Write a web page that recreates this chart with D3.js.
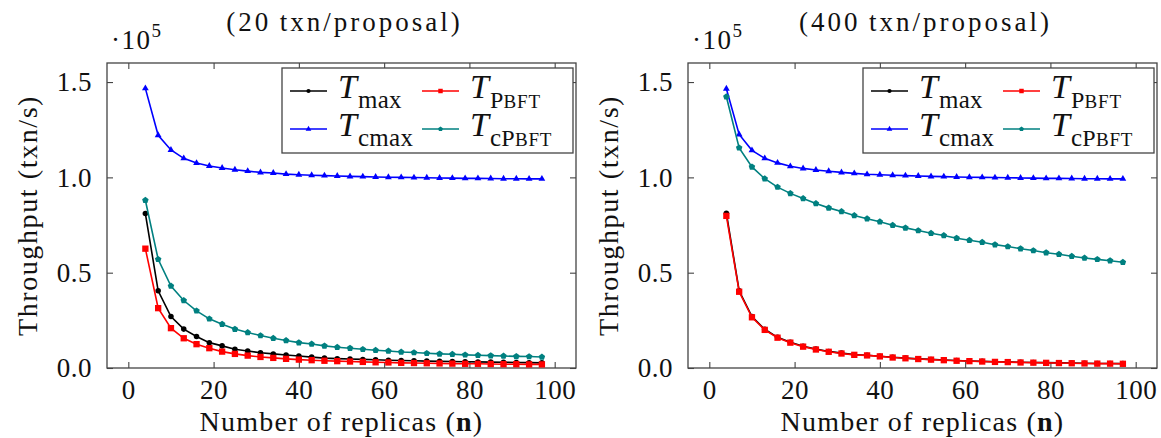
<!DOCTYPE html>
<html>
<head>
<meta charset="utf-8">
<script src="https://cdn.jsdelivr.net/npm/d3@7"></script>
<style>
  body { margin: 0; background: #fff; }
  svg text { font-family: "Liberation Serif", "DejaVu Serif", serif; fill: #111; }
</style>
</head>
<body>
<script>
// number of replicas (x values, shared by every series)
const replicas = [4, 7, 10, 13, 16, 19, 22, 25, 28, 31, 34, 37, 40, 43, 46, 49,
  52, 55, 58, 61, 64, 67, 70, 73, 76, 79, 82, 85, 88, 91, 94, 97];

// 20 txn/proposal (values in units of 10^5 txn/s)
const tMax20 = [0.81, 0.405, 0.27, 0.204, 0.165, 0.133, 0.116, 0.098, 0.089, 0.080, 0.074, 0.068, 0.063, 0.057,
  0.052, 0.049, 0.047, 0.045, 0.043, 0.041, 0.039, 0.038, 0.036, 0.035, 0.034, 0.033, 0.032, 0.031, 0.030, 0.029, 0.028, 0.027];
const tPbft20 = [0.626, 0.314, 0.209, 0.156, 0.125, 0.104, 0.086, 0.074, 0.065, 0.058, 0.053, 0.048, 0.044, 0.041,
  0.038, 0.036, 0.034, 0.032, 0.030, 0.029, 0.027, 0.026, 0.025, 0.024, 0.023, 0.022, 0.022, 0.021, 0.020, 0.020, 0.019, 0.019];
const tCmax20 = [1.467, 1.221, 1.144, 1.100, 1.075, 1.060, 1.049, 1.040, 1.033, 1.026, 1.023, 1.017, 1.014, 1.011,
  1.009, 1.007, 1.005, 1.004, 1.002, 1.001, 1.000, 0.999, 0.998, 0.997, 0.996, 0.995, 0.995, 0.994, 0.993, 0.993, 0.992, 0.992];
const tCpbft20 = [0.88, 0.57, 0.43, 0.354, 0.30, 0.258, 0.23, 0.204, 0.186, 0.17, 0.156, 0.144, 0.133, 0.126,
  0.116, 0.109, 0.104, 0.098, 0.093, 0.089, 0.084, 0.081, 0.077, 0.074, 0.072, 0.069, 0.067, 0.065, 0.063, 0.061, 0.060, 0.058];

// 400 txn/proposal
const tMax400 = [0.812, 0.405, 0.27, 0.203, 0.161, 0.135, 0.114, 0.099, 0.087, 0.078, 0.070, 0.067, 0.062, 0.056,
  0.052, 0.048, 0.045, 0.042, 0.039, 0.037, 0.035, 0.033, 0.032, 0.030, 0.029, 0.028, 0.027, 0.026, 0.025, 0.024, 0.024, 0.023];
const tPbft400 = [0.798, 0.40, 0.266, 0.20, 0.159, 0.133, 0.112, 0.097, 0.085, 0.076, 0.069, 0.066, 0.061, 0.055,
  0.051, 0.047, 0.044, 0.041, 0.038, 0.036, 0.034, 0.032, 0.031, 0.029, 0.028, 0.027, 0.026, 0.025, 0.024, 0.023, 0.023, 0.022];
const tCmax400 = [1.465, 1.225, 1.142, 1.100, 1.076, 1.058, 1.047, 1.039, 1.032, 1.026, 1.021, 1.016, 1.014, 1.011,
  1.009, 1.007, 1.005, 1.004, 1.002, 1.001, 1.000, 0.999, 0.998, 0.997, 0.996, 0.995, 0.995, 0.994, 0.993, 0.993, 0.992, 0.992];
const tCpbft400 = [1.423, 1.155, 1.055, 0.993, 0.949, 0.916, 0.889, 0.863, 0.84, 0.821, 0.80, 0.783, 0.767, 0.749,
  0.735, 0.721, 0.707, 0.695, 0.681, 0.670, 0.660, 0.647, 0.637, 0.626, 0.616, 0.605, 0.597, 0.586, 0.577, 0.570, 0.563, 0.555];

// ticks and labels
const xTicks = [0, 20, 40, 60, 80, 100];
const yTicks = [0, 0.5, 1.0, 1.5];
const panelTitles = ['(20\u2009txn/proposal)', '(400\u2009txn/proposal)'];
const seriesNames = ['Tmax', 'TPBFT', 'Tcmax', 'TcPBFT'];

(function() {
  'use strict';

  let svgContainer = ''; // keep SVG reference in global scope
  const serif = '"Liberation Serif", "DejaVu Serif", serif';

  // pentagon mark, like pgfplots "pentagon*"
  const symbolPentagon = {
    draw: function(context, size) {
      let r = Math.sqrt(size / 2.378);
      for (let i = 0; i < 5; i++) {
        let a = -Math.PI / 2 + i * 2 * Math.PI / 5;
        if (i === 0) context.moveTo(r * Math.cos(a), r * Math.sin(a));
        else context.lineTo(r * Math.cos(a), r * Math.sin(a));
      }
      context.closePath();
    }
  };

  // colour and mark of each series
  const styles = {
    Tmax: { color: '#000000', symbol: d3.symbolCircle, size: 24, legendSize: 14 },
    TPBFT: { color: '#ff0000', symbol: d3.symbolSquare, size: 40, legendSize: 20 },
    Tcmax: { color: '#0000ff', symbol: d3.symbolTriangle, size: 20, legendSize: 14 },
    TcPBFT: { color: '#008080', symbol: symbolPentagon, size: 28, legendSize: 16 }
  };

  window.onload = function() {
    svgContainer = d3.select('body')
      .append('svg')
      .attr('width', 1161)
      .attr('height', 438)
      .style('font-family', serif);

    drawPanel(0, panelTitles[0], [tMax20, tPbft20, tCmax20, tCpbft20]);
    drawPanel(581, panelTitles[1], [tMax400, tPbft400, tCmax400, tCpbft400]);
  };

  // draw one plot, shifted right by dx
  function drawPanel(dx, title, seriesValues) {
    let g = svgContainer.append('g').attr('transform', 'translate(' + dx + ',0)');

    let left = 107, right = 576, top = 63, bottom = 368;

    let xScale = d3.scaleLinear().domain([-5, 105]).range([left, right]);
    let yScale = d3.scaleLinear().domain([0, 1.6]).range([bottom, top]);

    // bottom axis, ticks pointing inside
    let xAxis = g.append('g')
      .attr('transform', 'translate(0,' + bottom + ')')
      .call(d3.axisBottom(xScale).tickValues(xTicks).tickSizeInner(-6).tickSizeOuter(0).tickPadding(12));

    // top mirror ticks
    let xTop = g.append('g')
      .attr('transform', 'translate(0,' + top + ')')
      .call(d3.axisTop(xScale).tickValues(xTicks).tickSizeInner(-6).tickSizeOuter(0).tickFormat(''));

    let yAxis = g.append('g')
      .attr('transform', 'translate(' + left + ',0)')
      .call(d3.axisLeft(yScale).tickValues(yTicks).tickSizeInner(-6).tickSizeOuter(0).tickPadding(15)
        .tickFormat(d3.format('.1f')));

    let yRight = g.append('g')
      .attr('transform', 'translate(' + right + ',0)')
      .call(d3.axisRight(yScale).tickValues(yTicks).tickSizeInner(-6).tickSizeOuter(0).tickFormat(''));

    [xAxis, xTop, yAxis, yRight].forEach(function(a) {
      a.attr('font-family', null).attr('font-size', null);
      a.select('.domain').remove();
      a.selectAll('line').attr('stroke', '#444').attr('stroke-width', 1.1);
      a.selectAll('text')
        .attr('fill', '#111')
        .style('font-family', serif)
        .style('font-size', '27px')
        .style('letter-spacing', '0.5px');
    });

    // axis box
    g.append('rect')
      .attr('x', left)
      .attr('y', top)
      .attr('width', right - left)
      .attr('height', bottom - top)
      .attr('fill', 'none')
      .attr('stroke', '#444')
      .attr('stroke-width', 1.3);

    // series lines and marks
    let line = d3.line()
      .x(d => xScale(d[0]))
      .y(d => yScale(d[1]));

    seriesValues.forEach(function(values, i) {
      let st = styles[seriesNames[i]];
      let pts = replicas.map((n, k) => [n, values[k]]);

      g.append('path')
        .datum(pts)
        .attr('d', line)
        .attr('fill', 'none')
        .attr('stroke', st.color)
        .attr('stroke-width', 1.6);

      g.selectAll('.mark' + i)
        .data(pts)
        .enter()
        .append('path')
          .attr('class', 'mark' + i)
          .attr('transform', d => 'translate(' + xScale(d[0]) + ',' + yScale(d[1]) + ')')
          .attr('d', d3.symbol().type(st.symbol).size(st.size))
          .attr('fill', st.color);
    });

    makeLabels(g, title, left, right, top, bottom);
    drawKey(g, right);
  }

  // title, exponent and axis labels
  function makeLabels(g, title, left, right, top, bottom) {
    let mid = (left + right) / 2;

    g.append('text')
      .attr('x', mid + 3)
      .attr('y', 31)
      .attr('text-anchor', 'middle')
      .style('font-size', '27px')
      .style('letter-spacing', '3px')
      .text(title);

    // scale factor above the y axis
    let ex = g.append('text')
      .attr('x', left + 4)
      .attr('y', 49);
    ex.append('tspan').style('font-size', '27px').style('letter-spacing', '1.5px').text('\u00b710');
    ex.append('tspan')
      .attr('dy', -12)
      .style('font-size', '19px')
      .text('5');

    g.append('text')
      .attr('x', mid)
      .attr('y', 431)
      .attr('text-anchor', 'middle')
      .style('font-size', '28px')
      .style('letter-spacing', '1.2px')
      .html('Number of replicas (<tspan style="font-weight:bold">n</tspan>)');

    g.append('text')
      .attr('transform', 'translate(37,' + (top + bottom) / 2 + ')rotate(-90)')
      .attr('text-anchor', 'middle')
      .style('font-size', '28px')
      .style('letter-spacing', '1.6px')
      .text('Throughput (txn/s)');
  }

  // subscript pieces of each legend entry
  function labelParts(name) {
    if (name === 'Tmax') return [['max', 25]];
    if (name === 'Tcmax') return [['cmax', 25]];
    if (name === 'TPBFT') return [['P', 24], ['BFT', 19]];
    return [['c', 25], ['P', 24], ['BFT', 19]];
  }

  // the legend box in the upper right corner
  function drawKey(g, right) {
    let lx = right - 294, ly = 68;

    g.append('rect')
      .attr('x', lx)
      .attr('y', ly)
      .attr('width', 291)
      .attr('height', 85)
      .attr('fill', '#fff')
      .attr('stroke', '#444')
      .attr('stroke-width', 1.3);

    seriesNames.forEach(function(name, i) {
      let st = styles[name];
      let col = i % 2, row = Math.floor(i / 2);
      let x0 = lx + 8 + col * 132;
      let yLine = ly + 23 + row * 38;

      g.append('line')
        .attr('x1', x0)
        .attr('x2', x0 + 37)
        .attr('y1', yLine)
        .attr('y2', yLine)
        .attr('stroke', st.color)
        .attr('stroke-width', 1.6);

      g.append('path')
        .attr('transform', 'translate(' + (x0 + 18.5) + ',' + yLine + ')')
        .attr('d', d3.symbol().type(st.symbol).size(st.legendSize))
        .attr('fill', st.color);

      let t = g.append('text')
        .attr('x', x0 + 48)
        .attr('y', yLine + 7);
      t.append('tspan')
        .style('font-size', '34px')
        .style('font-style', 'italic')
        .text('T');
      labelParts(name).forEach(function(p, k) {
        let s = t.append('tspan')
          .style('font-size', p[1] + 'px')
          .style('letter-spacing', p[0] === 'BFT' ? '0.8px' : '0.3px')
          .text(p[0]);
        if (k === 0) s.attr('dy', 10).attr('dx', 1);
      });
    });
  }

})();
</script>
</body>
</html>
